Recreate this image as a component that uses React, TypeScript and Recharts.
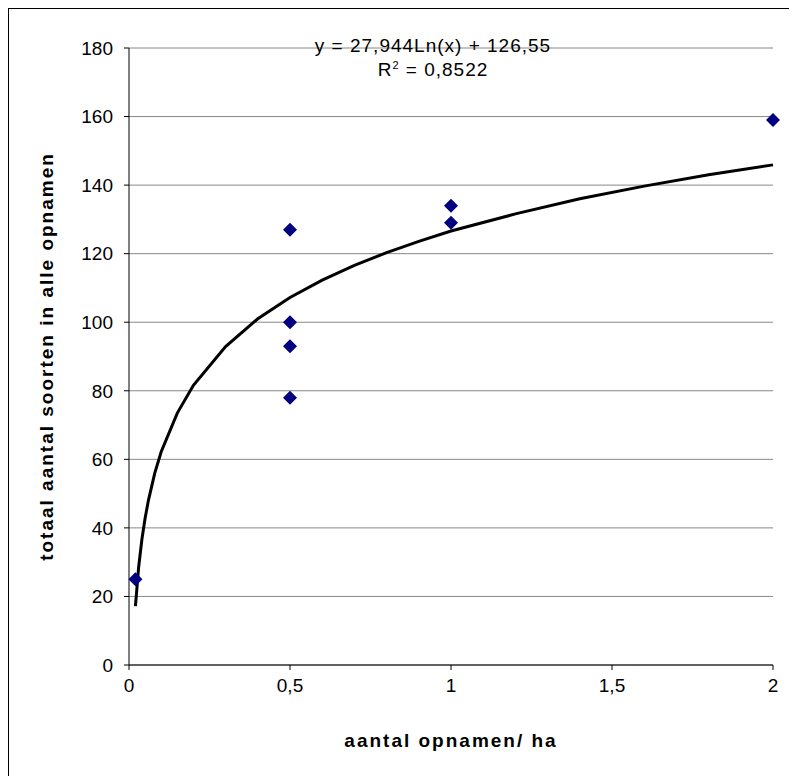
import React from 'react';
import { ScatterChart, Scatter, XAxis, YAxis, CartesianGrid, Label } from 'recharts';

// measured points (aantal opnamen/ha vs. totaal aantal soorten)
const pointX = [0.02, 0.5, 0.5, 0.5, 0.5, 1, 1, 2];
const pointY = [25, 127, 100, 93, 78, 134, 129, 159];

// trend line
const trendX = [0.02, 0.03, 0.04, 0.05, 0.06, 0.08, 0.1, 0.15, 0.2, 0.3, 0.4, 0.5, 0.6, 0.7, 0.8, 0.9, 1, 1.2, 1.4, 1.6, 1.8, 2];
const trendY = [17.2, 28.6, 36.6, 42.8, 47.9, 56.0, 62.2, 73.5, 81.6, 92.9, 101.0, 107.2, 112.3, 116.6, 120.3, 123.6, 126.6, 131.6, 136.0, 139.7, 143.0, 145.9];

const xTicks = [0, 0.5, 1, 1.5, 2];
const yTicks = [0, 20, 40, 60, 80, 100, 120, 140, 160, 180];

const points = pointX.map((x, i) => ({ x, y: pointY[i] }));
const trend = trendX.map((x, i) => ({ x, y: trendY[i] }));

const font = '"Liberation Sans", Arial, sans-serif';
const tickStyle = { fill: '#000', fontSize: 19, fontFamily: font };
const titleStyle = { fill: '#000', fontSize: 19, fontWeight: 'bold', fontFamily: font, letterSpacing: 2 };

const Diamond = (props: any) => {
  const { cx, cy } = props;
  const r = 7;
  return (
    <polygon
      points={`${cx},${cy - r} ${cx + r},${cy} ${cx},${cy + r} ${cx - r},${cy}`}
      fill="#000080"
    />
  );
};

export default function App() {
  return (
    <div
      style={{
        position: 'relative',
        width: 800,
        height: 780,
        borderTop: '1px solid #000',
        borderLeft: '1px solid #000',
        boxSizing: 'border-box',
        fontFamily: font,
      }}
    >
      <ScatterChart
        width={789}
        height={768}
        margin={{ top: 40, right: 24, bottom: 30, left: 20 }}
        style={{ position: 'absolute', left: -1, top: -1 }}
      >
        <CartesianGrid vertical={false} stroke="#888" />
        <XAxis
          type="number"
          dataKey="x"
          domain={[0, 2]}
          ticks={xTicks}
          tickFormatter={(v: number) => String(v).replace('.', ',')}
          axisLine={{ stroke: '#000' }}
          tickLine={{ stroke: '#000' }}
          tickSize={5}
          tickMargin={9}
          height={81}
          tick={tickStyle}
        >
          <Label value="aantal opnamen/ ha" position="insideBottom" offset={-1} style={titleStyle} />
        </XAxis>
        <YAxis
          type="number"
          dataKey="y"
          domain={[0, 180]}
          ticks={yTicks}
          axisLine={{ stroke: '#000' }}
          tickLine={{ stroke: '#000' }}
          tickSize={5}
          tickMargin={11}
          width={101}
          tick={tickStyle}
        >
          <Label
            value="totaal aantal soorten in alle opnamen"
            angle={-90}
            position="insideLeft"
            offset={18}
            style={{ ...titleStyle, textAnchor: 'middle' }}
          />
        </YAxis>
        <Scatter
          data={trend}
          line={{ stroke: '#000', strokeWidth: 3 }}
          shape={() => null}
          isAnimationActive={false}
        />
        <Scatter data={points} shape={Diamond} isAnimationActive={false} />
      </ScatterChart>
      <div
        style={{
          position: 'absolute',
          left: 224,
          width: 400,
          top: 25,
          textAlign: 'center',
          fontSize: 19,
          letterSpacing: 1,
          lineHeight: '24px',
          color: '#000',
        }}
      >
        <div>y = 27,944Ln(x) + 126,55</div>
        <div>
          R<sup style={{ fontSize: 11, lineHeight: 0 }}>2</sup> = 0,8522
        </div>
      </div>
    </div>
  );
}
